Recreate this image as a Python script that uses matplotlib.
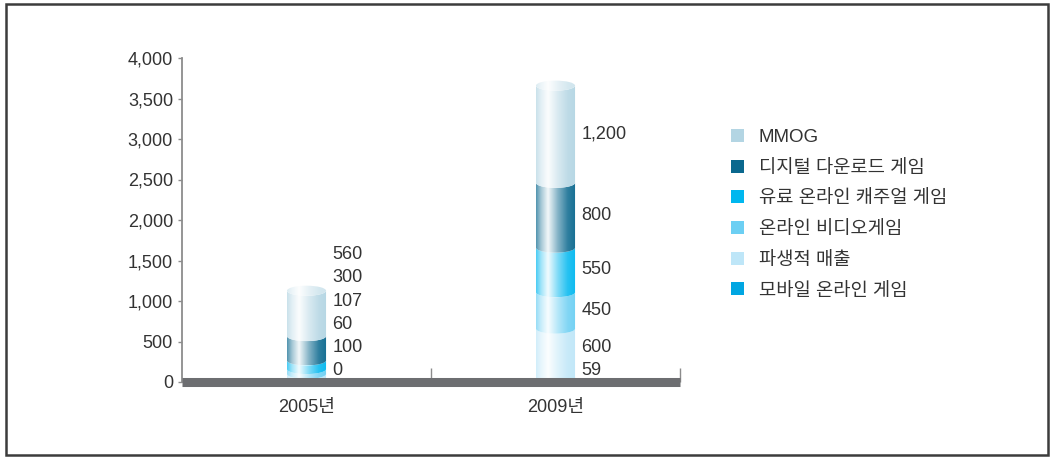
import numpy as np
import matplotlib.pyplot as plt
from matplotlib.patches import Ellipse, PathPatch, Rectangle, Patch
from matplotlib.path import Path
from matplotlib.colors import to_rgb

plt.rcParams['font.family'] = ['Liberation Sans', 'Noto Sans CJK KR', 'DejaVu Sans']

years = ['2005년', '2009년']
series = ['모바일 온라인 게임', '파생적 매출', '온라인 비디오게임',
          '유료 온라인 캐주얼 게임', '디지털 다운로드 게임', 'MMOG']
mobile = [0, 59]
derived = [100, 600]
video = [60, 450]
casual = [107, 550]
download = [300, 800]
mmog = [560, 1200]
colors = ['#00A6E2', '#BEE6F8', '#6CCFF3', '#00B7EF', '#0A688E', '#B3D5E3']

stack = [mobile, derived, video, casual, download, mmog]

BAR_W = 0.157
RY = 62
LABEL_GAP = 284


def shade(color, lift=0.0):
    # horizontal light profile of a glossy cylinder
    u = np.linspace(0, 1, 80)
    w = np.interp(u, [0, 0.12, 0.3, 0.55, 0.8, 1], [0.3, 0.62, 0.95, 0.5, 0.15, 0.05])
    w = lift + (1 - lift) * w
    c = np.array(to_rgb(color))
    return (c[None, :] * (1 - w[:, None]) + w[:, None])[None, :, :]


def segment(ax, xc, bottom, top, color):
    rx = BAR_W / 2
    t = np.linspace(0, np.pi, 50)
    xs = xc - rx * np.cos(t)
    arc = -RY * np.sin(t)
    top_pts = np.column_stack([xs, top + arc])
    bot_pts = np.column_stack([xs[::-1], bottom + arc[::-1]])
    verts = np.vstack([top_pts, bot_pts, top_pts[:1]])
    patch = PathPatch(Path(verts, closed=True), facecolor='none', edgecolor='none')
    ax.add_patch(patch)
    img = ax.imshow(shade(color), extent=[xc - rx, xc + rx, bottom - RY, top],
                    aspect='auto', interpolation='bilinear', zorder=2)
    img.set_clip_path(patch)


def cap(ax, xc, top, color):
    rx = BAR_W / 2
    ell = Ellipse((xc, top), 2 * rx, 2 * RY, facecolor='none', edgecolor='none')
    ax.add_patch(ell)
    img = ax.imshow(shade(color, lift=0.35), extent=[xc - rx, xc + rx, top - RY, top + RY],
                    aspect='auto', interpolation='bilinear', zorder=2.1)
    img.set_clip_path(ell)


fig, ax = plt.subplots(figsize=(10.52, 4.58), dpi=100)
fig.subplots_adjust(left=182 / 1052, right=680 / 1052, bottom=1 - 382 / 458, top=1 - 58 / 458)

x = np.arange(len(years))
for i, xc in enumerate(x):
    base = 0
    label_y = 0
    for k, vals in enumerate(stack):
        v = vals[i]
        if v > 0:
            segment(ax, xc, base, base + v, colors[k])
        center = base + v / 2
        label_y = max(center, 148) if k == 0 else max(center, label_y + LABEL_GAP)
        ax.annotate(f'{v:,}', xy=(xc + BAR_W / 2, label_y), xytext=(4.5, 0),
                    textcoords='offset points', va='center', ha='left',
                    fontsize=13, color='#333333')
        base += v
    cap(ax, xc, base, colors[-1])

ax.set_xlim(-0.5, 1.5)
ax.set_ylim(0, 4000)

for side in ['top', 'right']:
    ax.spines[side].set_visible(False)
ax.spines['left'].set_color('#8c8c8c')
ax.spines['left'].set_linewidth(1.3)
ax.spines['bottom'].set_color('#6d6e71')
ax.spines['bottom'].set_linewidth(6.5)
ax.spines['bottom'].set_capstyle('butt')

ax.set_yticks(np.arange(0, 4001, 500))
ax.set_yticklabels([f'{v:,}' for v in range(0, 4001, 500)])
ax.tick_params(axis='y', direction='out', length=3, width=1, color='#8c8c8c',
               labelsize=13, labelcolor='#333333', pad=3.5)

ax.set_xticks(x)
ax.set_xticklabels(years)
ax.set_xticks([0.5, 1.5], minor=True)
ax.tick_params(axis='x', which='major', length=0, labelsize=13, labelcolor='#333333', pad=12)
ax.tick_params(axis='x', which='minor', direction='in', length=10, width=1, color='#8c8c8c')

handles = [Patch(facecolor=c, edgecolor='none') for c in colors][::-1]
fig.legend(handles, series[::-1], loc='upper left',
           bbox_to_anchor=(731 / 1052, 1 - 129 / 458), frameon=False,
           fontsize=13.5, handlelength=0.68, handleheight=0.68, handletextpad=0.8,
           labelspacing=0.73, borderpad=0, borderaxespad=0, labelcolor='#333333')

fig.patches.append(Rectangle((5.5 / 1052, 3 / 458), 1042 / 1052, 451 / 458,
                             transform=fig.transFigure, fill=False,
                             edgecolor='#3c3c3c', linewidth=1.8))

fig.savefig('out.png', dpi=100)
